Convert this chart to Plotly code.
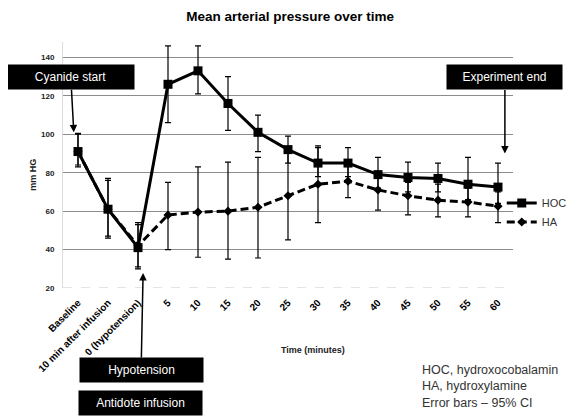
import plotly.graph_objects as go

# categories on the x axis
time_labels = ["Baseline", "10 min after infusion", "0 (hypotension)", "5", "10", "15", "20",
               "25", "30", "35", "40", "45", "50", "55", "60"]

# mean arterial pressure (mm Hg)
hoc_mean = [91, 61, 41, 126, 133, 116, 101, 92, 85, 85, 79, 77.5, 77, 74, 72.5]
hoc_upper = [100.5, 77, 54, 146, 146, 130, 110, 99, 93, 93, 88, 85.5, 85, 88, 85]
hoc_lower = [83, 46, 30, 106, 121, 102, 91, 85, 78, 78, 72, 70, 70, 66, 64]

ha_mean = [91, 61, 42, 58, 59.5, 60, 62, 68, 74, 75.6, 71, 68, 65.7, 64.7, 62.6]
ha_upper = [100, 76, 53, 75, 83, 85.5, 88, 91, 94, 85, 79, 75, 74, 72, 70]
ha_lower = [84, 47, 31, 40, 36, 35, 35.6, 45, 54, 67, 60.5, 58, 57, 57, 54]

notes = ["HOC, hydroxocobalamin", "HA, hydroxylamine", "Error bars \u2013 95% CI"]

font_main = "Liberation Sans, Arial, sans-serif"


def err(mean, hi, lo):
    return dict(type="data", symmetric=False,
                array=[h - m for h, m in zip(hi, mean)],
                arrayminus=[m - l for m, l in zip(mean, lo)],
                color="black", thickness=1.2, width=3)


fig = go.Figure()

fig.add_trace(go.Scatter(
    x=time_labels, y=hoc_mean, name="HOC", mode="lines+markers",
    line=dict(color="black", width=3),
    marker=dict(symbol="square", size=9, color="black"),
    error_y=err(hoc_mean, hoc_upper, hoc_lower),
))
fig.add_trace(go.Scatter(
    x=time_labels, y=ha_mean, name="HA", mode="lines+markers",
    line=dict(color="black", width=3, dash="8px,4px"),
    marker=dict(symbol="diamond", size=7, color="black"),
    error_y=err(ha_mean, ha_upper, ha_lower),
))

# dashed baseline at y=20
fig.add_shape(type="line", xref="paper", yref="y", x0=0, x1=1, y0=20, y1=20,
              line=dict(color="#c8c8c8", width=1, dash="dash"))

box = dict(bgcolor="black", font=dict(color="white", size=12, family=font_main),
           borderpad=3, showarrow=False, height=18)
arrow = dict(showarrow=True, arrowhead=2, arrowsize=1, arrowwidth=1.5, arrowcolor="black")

annotations = [
    # event boxes with arrows
    dict(text="Cyanide start", xref="paper", x=0.024, y=101, ax=-3, ay=-55, width=121,
         **{**box, **arrow}),
    dict(text="Experiment end", xref="paper", x=0.982, y=90, ax=0, ay=-76, width=109,
         **{**box, **arrow}),
    dict(text="Hypotension", xref="paper", x=0.178, y=27.8, ax=-2, ay=97, width=117,
         **{**box, **arrow}),
    dict(text="Antidote infusion", xref="paper", yref="paper", x=0.173, y=-0.467,
         xanchor="center", yanchor="middle", width=117, **box),
    # axis titles
    dict(text="<b>Time (minutes)</b>", xref="paper", yref="paper", x=0.556, y=-0.252,
         xanchor="center", yanchor="middle", showarrow=False,
         font=dict(size=9, color="#222", family=font_main)),
    dict(text="<b>mm HG</b>", xref="paper", yref="paper", x=-0.067, y=0.46, textangle=-90,
         xanchor="center", yanchor="middle", showarrow=False,
         font=dict(size=9, color="#222", family=font_main)),
    # footnote
    dict(text="<br>".join(notes), xref="paper", yref="paper", x=0.793, y=-0.297,
         xanchor="left", yanchor="top", align="left", showarrow=False,
         font=dict(size=12.5, color="#333", family=font_main)),
]
fig.update_layout(annotations=annotations)

# page body adds an 8px margin, so the figure is 8px smaller than the window
fig.update_layout(
    width=570, height=410,
    title=dict(text="<b>Mean arterial pressure over time</b>", x=0.495, xanchor="center",
               y=0.98, yanchor="middle", font=dict(size=13.5, color="black", family=font_main)),
    paper_bgcolor="white", plot_bgcolor="white",
    font=dict(family=font_main, color="black"),
    margin=dict(l=55, r=65, t=34, b=130, autoexpand=False),
    showlegend=True,
    legend=dict(x=0.975, y=0.307, xanchor="left", yanchor="middle",
                font=dict(size=11, color="#333"), itemwidth=30, tracegroupgap=0,
                bgcolor="rgba(0,0,0,0)"),
    xaxis=dict(type="category", range=[-0.5, 14.5], autorange=False, automargin=False,
               tickmode="array", tickvals=time_labels,
               ticktext=["<b>%s</b>" % t for t in time_labels],
               tickangle=-45, showgrid=False, ticks="", ticklabelstandoff=6,
               tickfont=dict(size=10, color="black"),
               showline=False, zeroline=False),
    yaxis=dict(range=[20, 148], autorange=False, automargin=False, tick0=20, dtick=20,
               showgrid=True, gridcolor="#8c8c8c",
               gridwidth=1, zeroline=False, showline=True, linecolor="#dddddd",
               tickfont=dict(size=8, color="#222"), tickprefix="<b>", ticksuffix="</b>",
               ticks="", ticklabelstandoff=6),
)

fig.write_html("out.html")
